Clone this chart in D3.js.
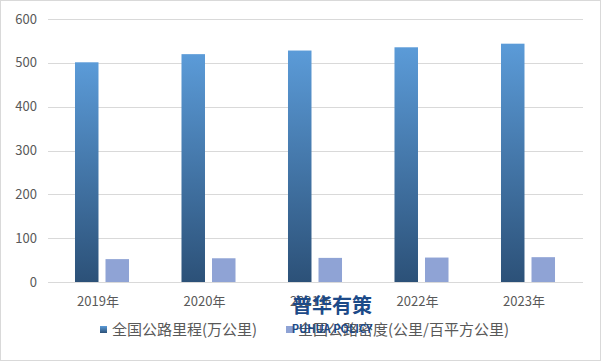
<!DOCTYPE html>
<html>
<head>
<meta charset="utf-8">
<script src="https://cdn.jsdelivr.net/npm/d3@7"></script>
<style>
  html, body { margin: 0; padding: 0; background: #fff; }
  #chart { width: 601px; height: 361px; }
  text { font-family: "Noto Sans CJK SC", "Noto Sans", sans-serif; }
</style>
</head>
<body>
<div id="chart"></div>
<script>
const years = ["2019年", "2020年", "2021年", "2022年", "2023年"];
const seriesNames = ["全国公路里程(万公里)", "全国公路密度(公里/百平方公里)"];
const mileage = [501.25, 519.81, 528.07, 535.48, 543.68];
const density = [52.21, 54.15, 55.01, 55.78, 56.63];
const yTicks = [0, 100, 200, 300, 400, 500, 600];

const W = 601, H = 361;
const svg = d3.select("#chart").append("svg")
  .attr("width", W)
  .attr("height", H);

const defs = svg.append("defs");
const grad = defs.append("linearGradient")
  .attr("id", "blueGrad")
  .attr("x1", 0).attr("y1", 0).attr("x2", 0).attr("y2", 1);
grad.append("stop").attr("offset", "0%").attr("stop-color", "#5b9bd8");
grad.append("stop").attr("offset", "100%").attr("stop-color", "#2c5178");

// outer border
svg.append("rect")
  .attr("x", 0.5).attr("y", 0.5)
  .attr("width", W - 1).attr("height", H - 1)
  .attr("fill", "#fff")
  .attr("stroke", "#d9d9d9");

const yScale = d3.scaleLinear().domain([0, 600]).range([282, 19]);
const x0 = d3.scaleBand().domain(years).range([48.75, 581.25]).padding(0);
const x1 = d3.scaleBand().domain(seriesNames)
  .range([0, x0.bandwidth()])
  .paddingInner(0.23)
  .paddingOuter(0.86);

// gridlines
svg.append("g")
  .selectAll("line")
  .data(yTicks)
  .enter()
  .append("line")
  .attr("x1", 48).attr("x2", 583)
  .attr("y1", d => Math.round(yScale(d)) + 0.5)
  .attr("y2", d => Math.round(yScale(d)) + 0.5)
  .attr("stroke", "#d9d9d9")
  .attr("stroke-width", 1);

// y labels
svg.append("g")
  .selectAll("text")
  .data(yTicks)
  .enter()
  .append("text")
  .attr("x", 37)
  .attr("y", d => yScale(d))
  .attr("dy", "0.35em")
  .attr("text-anchor", "end")
  .attr("font-size", "13px")
  .attr("fill", "#595959")
  .text(d => d);

// x labels
svg.append("g")
  .selectAll("text")
  .data(years)
  .enter()
  .append("text")
  .attr("x", d => x0(d) + x0.bandwidth() / 2 - 4)
  .attr("y", 301)
  .attr("dy", "0.35em")
  .attr("text-anchor", "middle")
  .attr("font-size", "13px")
  .attr("fill", "#595959")
  .text(d => d);

const rows = years.map((y, i) => ({ year: y, values: [mileage[i], density[i]] }));

const groups = svg.append("g")
  .selectAll("g")
  .data(rows)
  .enter()
  .append("g")
  .attr("transform", d => `translate(${x0(d.year)},0)`);

groups.selectAll("rect")
  .data(d => d.values.map((v, j) => ({ key: seriesNames[j], value: v, j })))
  .enter()
  .append("rect")
  .attr("x", d => x1(d.key))
  .attr("width", x1.bandwidth())
  .attr("y", d => yScale(d.value))
  .attr("height", d => yScale(0) - yScale(d.value))
  .attr("fill", d => d.j === 0 ? "url(#blueGrad)" : "#8fa3d5");

// legend
const legendX = [100, 286];
const legend = svg.append("g")
  .selectAll("g")
  .data(seriesNames)
  .enter()
  .append("g")
  .attr("transform", (d, i) => `translate(${legendX[i]},326)`);

legend.append("rect")
  .attr("width", 7).attr("height", 7)
  .attr("fill", (d, i) => i === 0 ? "url(#blueGrad)" : "#8fa3d5");

legend.append("text")
  .attr("x", 12)
  .attr("y", 4)
  .attr("dy", "0.35em")
  .attr("font-size", "15px")
  .attr("fill", "#595959")
  .text(d => d);

// watermark
svg.append("text")
  .attr("x", 332)
  .attr("y", 313)
  .attr("text-anchor", "middle")
  .attr("font-size", "20px")
  .attr("font-weight", "bold")
  .attr("fill", "#1c4a88")
  .text("普华有策");

svg.append("text")
  .attr("x", 332)
  .attr("y", 333)
  .attr("text-anchor", "middle")
  .attr("font-size", "11px")
  .attr("font-weight", "bold")
  .attr("fill", "#1c4a88")
  .text("PUHUA POLICY");
</script>
</body>
</html>
